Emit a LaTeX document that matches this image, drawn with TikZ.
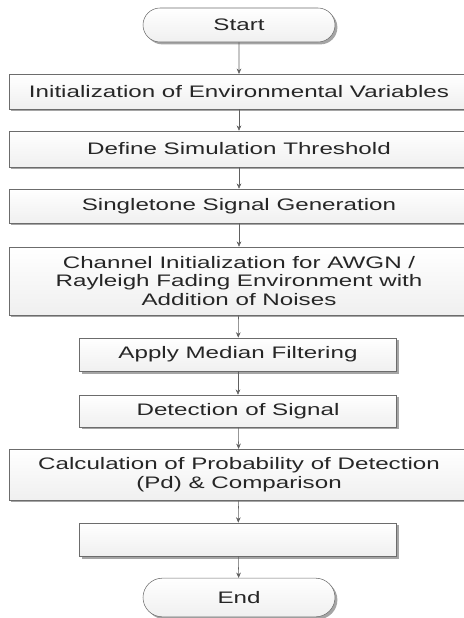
\documentclass[tikz,border=0pt]{standalone}
\usepackage{fontspec}
\setmainfont{Liberation Sans}[FakeStretch=1.45]
\usetikzlibrary{shapes.misc,shadows,arrows.meta}
\begin{document}
\begin{tikzpicture}[
            x=0.75pt,
            y=-0.75pt,
            font=\fontsize{12.5}{14}\selectfont,
            box/.style={rectangle, draw=gray!85!black, top color=white, bottom color=gray!12,
                text=black!85, align=center, inner sep=0pt,
                drop shadow={shadow xshift=1.8pt, shadow yshift=-1.8pt, fill=black!70}},
            wide/.style={box, minimum width=345pt},
            narrow/.style={box, minimum width=238pt},
            term/.style={box, rounded rectangle, minimum width=144pt},
            link/.style={draw=gray!75!black, -{Stealth[length=4pt,width=3.5pt]}}
        ]
        \useasboundingbox (0,0) rectangle (464,618);

        \node[term, minimum height=25.5pt] (start) at (239,25) {Start};
        \node[wide, minimum height=26pt] (init) at (239,91.5) {Initialization of Environmental Variables};
        \node[wide, minimum height=27pt] (thres) at (239,149) {Define Simulation Threshold};
        \node[wide, minimum height=25.5pt] (gen) at (239,206) {Singletone Signal Generation};
        \node[wide, minimum height=51pt] (chan) at (239,281) {Channel Initialization for AWGN /\\Rayleigh Fading Environment with\\Addition of Noises};
        \node[narrow, minimum height=25pt] (median) at (238,354.5) {Apply Median Filtering};
        \node[narrow, minimum height=24pt] (detect) at (238,411) {Detection of Signal};
        \node[wide, minimum height=38pt] (calc) at (239,474.5) {Calculation of Probability of Detection\\(Pd) \& Comparison};
        \node[narrow, minimum height=25pt] (blank) at (238,539.5) {};
        \node[term, minimum height=29pt] (end) at (239,597.5) {End};

        \draw[link] (start) -- (init);
        \draw[link] (init) -- (thres);
        \draw[link] (thres) -- (gen);
        \draw[link] (gen) -- (chan);
        \draw[link] (chan) -- (median);
        \draw[link] (median) -- (detect);
        \draw[link] (detect) -- (calc);
        \draw[link] (calc) -- (blank);
        \draw[link] (blank) -- (end);

    \end{tikzpicture}
\end{document}
